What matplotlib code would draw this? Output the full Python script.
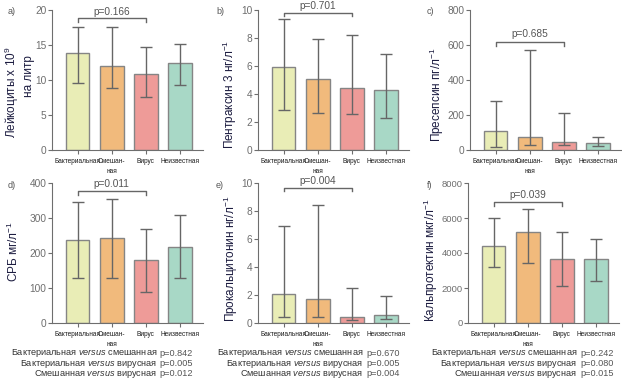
import matplotlib
matplotlib.use("Agg")
import matplotlib.pyplot as plt
import numpy as np

# ============================================================
# SETUP
# ============================================================
FONT = "Liberation Sans"

plt.rcParams.update({
    "font.family": [FONT, "DejaVu Sans"],
    "mathtext.fontset": "custom",
    "mathtext.rm": FONT,
    "mathtext.it": FONT + ":italic",
    "axes.edgecolor": "#6e6e6e",
    "xtick.color": "#6e6e6e",
    "ytick.color": "#6e6e6e",
})

W, H = 622, 383
GROUPS = ["Бактериальная", "Смешан-\nная", "Вирус", "Неизвестная"]
COLORS = ["#e9edb6", "#f1ba7c", "#ee9b98", "#a8d8c6"]
EDGE = "#858585"
ERR = "#666666"
LABEL = "#1c1c40"

# ============================================================
# DATA
# ============================================================
leuk_mean = [13.9, 12.05, 10.9, 12.4]
leuk_lo = [9.6, 8.8, 7.5, 9.3]
leuk_hi = [17.5, 17.5, 14.7, 15.2]

ptx_mean = [5.95, 5.1, 4.4, 4.26]
ptx_lo = [2.86, 2.62, 2.55, 2.26]
ptx_hi = [9.33, 7.95, 8.2, 6.83]

psp_mean = [110, 76, 46, 38]
psp_lo = [19, 27, 27, 23]
psp_hi = [282, 571, 210, 74]

crp_mean = [236, 244, 179, 216]
crp_lo = [130, 128, 90, 128]
crp_hi = [346, 354, 270, 308]

pct_mean = [2.1, 1.71, 0.43, 0.55]
pct_lo = [0.43, 0.43, 0.19, 0.31]
pct_hi = [6.9, 8.45, 2.52, 1.95]

cal_mean = [4380, 5220, 3640, 3640]
cal_lo = [3180, 3430, 2110, 2420]
cal_hi = [5980, 6530, 5180, 4820]

comparisons = ["Бактериальная $\\mathit{versus}$ смешанная",
               "Бактериальная $\\mathit{versus}$ вирусная",
               "Смешанная $\\mathit{versus}$ вирусная"]
crp_p = ["p=0.842", "p=0.005", "p=0.012"]
pct_p = ["p=0.670", "p=0.005", "p=0.004"]
cal_p = ["p=0.242", "p=0.080", "p=0.015"]

panels = [
    # letter, letter x px, axes left px, axes top px, ymax, ticks, means, lo, hi,
    # p text, bracket y, bracket end y, p text y
    ("a)", 8, 52, 10, 20, [0, 5, 10, 15, 20], leuk_mean, leuk_lo, leuk_hi, "p=0.166", 18.8, 18.3, 19.0),
    ("b)", 216, 258, 10, 10, [0, 2, 4, 6, 8, 10], ptx_mean, ptx_lo, ptx_hi, "p=0.701", 9.8, 9.55, 9.95),
    ("c)", 427, 470, 10, 800, [0, 200, 400, 600, 800], psp_mean, psp_lo, psp_hi, "p=0.685", 619, 596, 635),
    ("d)", 8, 52, 183, 400, [0, 100, 200, 300, 400], crp_mean, crp_lo, crp_hi, "p=0.011", 376, 367, 382),
    ("e)", 216, 258, 183, 10, [0, 2, 4, 6, 8, 10], pct_mean, pct_lo, pct_hi, "p=0.004", 9.64, 9.4, 9.8),
    ("f)", 427, 468, 183, 8000, [0, 2000, 4000, 6000, 8000], cal_mean, cal_lo, cal_hi, "p=0.039", 6900, 6700, 7050),
]

fig = plt.figure(figsize=(W / 100, H / 100), dpi=100)
AX_W, AX_H = 151, 140

for letter, tx, lx, ty, ymax, ticks, mean, lo, hi, ptxt, by, be, py in panels:
    ax = fig.add_axes([lx / W, 1 - (ty + AX_H) / H, AX_W / W, AX_H / H])
    x = np.arange(len(GROUPS))
    mean = np.array(mean)
    yerr = [mean - np.array(lo), np.array(hi) - mean]
    ax.bar(x, mean, width=0.7, color=COLORS, edgecolor=EDGE, linewidth=1.0, zorder=2)
    ax.errorbar(x, mean, yerr=yerr, fmt="none", ecolor=ERR, elinewidth=1.0,
                capsize=4.5, capthick=1.0, zorder=3)
    ax.set_xlim(-0.75, 3.68)
    ax.set_ylim(0, ymax)
    ax.set_yticks(ticks)
    ysize = 6.8 if ymax >= 8000 else 7.3
    ax.tick_params(axis="y", labelsize=ysize, length=3, width=0.8, pad=1, labelcolor="#6e6e6e")
    ax.set_xticks(x)
    ax.set_xticklabels(GROUPS, fontsize=4.7, color="#1a1a1a", linespacing=1.45, va="top")
    ax.tick_params(axis="x", length=3, width=0.8, pad=3)
    for s in ["top", "right"]:
        ax.spines[s].set_visible(False)
    ax.spines["left"].set_linewidth(0.8)
    ax.spines["bottom"].set_linewidth(0.8)

    # bracket between bacterial and virus groups
    ax.plot([0, 0, 2, 2], [be, by, by, be], color=ERR, lw=1.0, clip_on=False)
    ax.text(1, py, ptxt, ha="center", va="bottom", fontsize=7.3, color="#555555")

    fig.text(tx / W, 1 - (ty + 2) / H, letter, fontsize=6.5, color="#555555",
             ha="left", va="center")

# y axis labels
ylab_kw = dict(rotation=90, ha="center", va="center", color=LABEL, fontsize=8.5)
fig.text(12 / W, 1 - 92 / H, "Лейкоциты х 10$^{9}$", **ylab_kw)
fig.text(29 / W, 1 - 76 / H, "на литр", **ylab_kw)
fig.text(230 / W, 1 - 94 / H, "Пентраксин 3 нг/л$^{-1}$", **ylab_kw)
fig.text(437 / W, 1 - 95 / H, "Пресепсин пг/л$^{-1}$", **ylab_kw)
fig.text(13 / W, 1 - 252 / H, "СРБ мг/л$^{-1}$", **ylab_kw)
fig.text(231 / W, 1 - 259 / H, "Прокальцитонин нг/л$^{-1}$", **ylab_kw)
fig.text(431 / W, 1 - 260 / H, "Кальпротектин мкг/л$^{-1}$", **ylab_kw)

# p-values under the lower panels
for right_x, p_x, pvals in [(157, 159, crp_p), (363, 366, pct_p), (577, 580, cal_p)]:
    for i, (comp, p) in enumerate(zip(comparisons, pvals)):
        yy = 1 - (353 + i * 10.5) / H
        fig.text(right_x / W, yy, comp, ha="right", va="center", fontsize=6.6, color="#333333")
        fig.text(p_x / W, yy, p, ha="left", va="center", fontsize=6.6, color="#555555")

plt.savefig("out.png", dpi=100)
plt.close()
